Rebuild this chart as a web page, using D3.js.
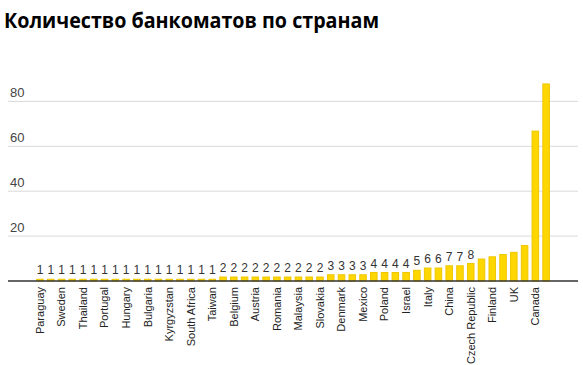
<!DOCTYPE html>
<html><head><meta charset="utf-8">
<script src="https://cdn.jsdelivr.net/npm/d3@7"></script>
<style>body{margin:0;background:#fff;}svg{display:block;}</style>
</head><body>
<svg id="c" width="583" height="365"></svg>
<script>
const title = "Количество банкоматов по странам";
// one entry per bar (48 bars), every other bar carries a visible name
const countryLabels = ["Paraguay","","Sweden","","Thailand","","Portugal","","Hungary","","Bulgaria","","Kyrgyzstan","","South Africa","","Taiwan","","Belgium","","Austria","","Romania","","Malaysia","","Slovakia","","Denmark","","Mexico","","Poland","","Israel","","Italy","","China","","Czech Republic","","Finland","","UK","","Canada",""];
const values = [1,1,1,1,1,1,1,1,1,1,1,1,1,1,1,1,1,2,2,2,2,2,2,2,2,2,2,3,3,3,3,4,4,4,4,5,6,6,7,7,8,10,11,12,13,16,67,88];
const valueLabels = [1,1,1,1,1,1,1,1,1,1,1,1,1,1,1,1,1,2,2,2,2,2,2,2,2,2,2,3,3,3,3,4,4,4,4,5,6,6,7,7,8,null,null,null,null,null,null,null];
const yTicks = [20,40,60,80];

const svg = d3.select("#c");
svg.append("text").attr("x",4).attr("y",27.5).text(title)
  .attr("font-family","'Open Sans', sans-serif").attr("font-weight","bold")
  .attr("font-size",22).attr("fill","#000").attr("textLength",375).attr("lengthAdjust","spacingAndGlyphs");

const x = d3.scaleBand().domain(d3.range(values.length)).range([34.6,551.5]).paddingInner(0.3).paddingOuter(0.15);
const y = d3.scaleLinear().domain([0,20]).range([281,236.1]);
const left = 8, right = 578;

const g = svg.append("g");
g.selectAll("line.grid").data(yTicks).join("line")
  .attr("x1",left).attr("x2",right).attr("y1",d=>y(d)).attr("y2",d=>y(d))
  .attr("stroke","#d9d9d9").attr("stroke-width",1);
g.selectAll("text.yl").data(yTicks).join("text")
  .attr("x",10).attr("y",d=>y(d)-4.5).text(d=>d)
  .attr("font-family","Arial, 'Liberation Sans', sans-serif").attr("font-size",13).attr("fill","#444");

g.selectAll("rect").data(values).join("rect")
  .attr("x",(d,i)=>x(i)+0.5).attr("width",x.bandwidth()-1)
  .attr("y",d=>y(d)+0.5).attr("height",d=>y(0)-y(d)-0.5)
  .attr("fill","#ffd700").attr("stroke","#efc600").attr("stroke-width",1);

g.selectAll("text.vl").data(valueLabels.map((v,i)=>({v,i})).filter(d=>d.v!==null)).join("text")
  .attr("x",d=>x(d.i)+x.bandwidth()/2).attr("y",d=>y(values[d.i])-4.5)
  .attr("text-anchor","middle").text(d=>d.v)
  .attr("font-family","Arial, 'Liberation Sans', sans-serif").attr("font-size",12).attr("fill","#333");

g.append("line").attr("x1",left).attr("x2",right).attr("y1",y(0)).attr("y2",y(0))
  .attr("stroke","#333").attr("stroke-width",1.5);

const xAxis = d3.axisBottom(x).tickSize(0).tickPadding(0).tickFormat(i=>countryLabels[i]);
const ax = svg.append("g").attr("transform",`translate(0,${y(0)})`).call(xAxis);
ax.select(".domain").remove();
ax.selectAll("text").attr("transform","rotate(-90)").attr("text-anchor","end")
  .attr("x",-6).attr("y",0).attr("dy","0.35em")
  .attr("font-family","Arial, 'Liberation Sans', sans-serif").attr("font-size",11).attr("fill","#222");
</script>
</body></html>
